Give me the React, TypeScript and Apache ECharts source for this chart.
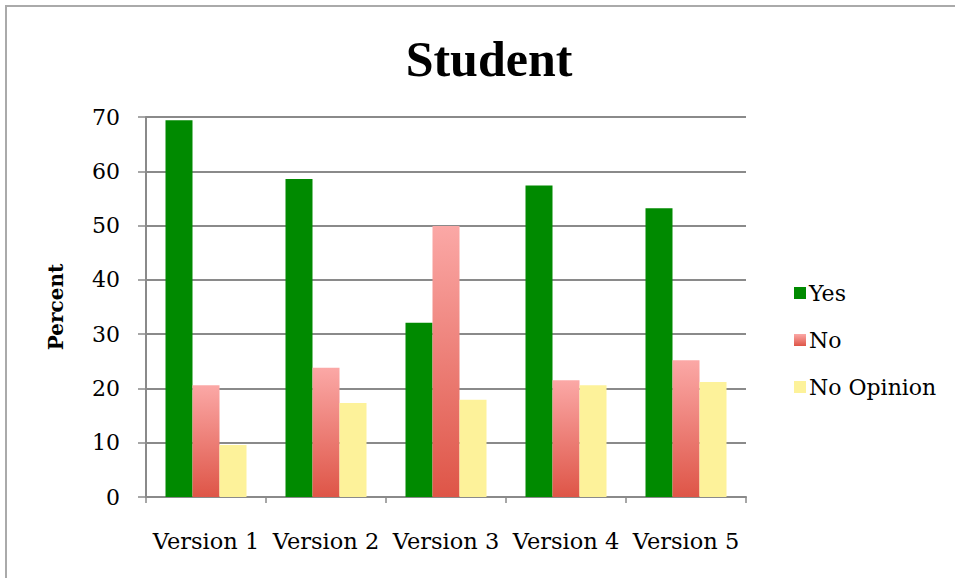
import React, { useEffect, useRef } from "react";
import * as echarts from "echarts";

const categories = ["Version 1", "Version 2", "Version 3", "Version 4", "Version 5"];
const yesValues = [69.4, 58.6, 32.1, 57.4, 53.2];
const noValues = [20.6, 23.8, 49.9, 21.5, 25.2];
const noOpinionValues = [9.6, 17.3, 17.9, 20.6, 21.2];
const seriesNames = ["Yes", "No", "No Opinion"];
const yTicks = { min: 0, max: 70, interval: 10 };

export default function App() {
  const ref = useRef<HTMLDivElement>(null);
  useEffect(() => {
    if (!ref.current) return;
    const chart = echarts.init(ref.current, undefined, { renderer: "svg" });
    const serif = "DejaVu Serif";
    const pink = new echarts.graphic.LinearGradient(0, 0, 0, 1, [
      { offset: 0, color: "#fba8a6" },
      { offset: 1, color: "#de5547" },
    ]);
    chart.setOption({
      animation: false,
      backgroundColor: "#ffffff",
      title: {
        text: "Student",
        left: 484,
        textAlign: "center",
        top: 29,
        textStyle: {
          fontFamily: "Liberation Serif",
          fontWeight: "bold",
          fontSize: 50,
          color: "#000",
        },
      },
      graphic: [
        {
          type: "rect",
          shape: { x: 6, y: 6, width: 970, height: 600 },
          style: { fill: "none", stroke: "#aaaaaa", lineWidth: 2 },
          silent: true,
        },
      ],
      legend: {
        orient: "vertical",
        left: 789,
        top: 277,
        itemWidth: 12,
        itemHeight: 12,
        itemGap: 25,
        icon: "rect",
        data: seriesNames,
        textStyle: { fontFamily: serif, fontSize: 22, color: "#000", padding: [0, 0, 0, -2] },
      },
      grid: { left: 146, right: 209, top: 117, bottom: 81 },
      xAxis: {
        type: "category",
        data: categories,
        boundaryGap: true,
        axisLine: { lineStyle: { color: "#8a8a8a", width: 2 } },
        axisTick: { show: true, length: 6, lineStyle: { color: "#8a8a8a", width: 1.5 } },
        axisLabel: {
          fontFamily: serif,
          fontSize: 22.5,
          color: "#000",
          margin: 32,
          interval: 0,
          hideOverlap: false,
        },
      },
      yAxis: {
        type: "value",
        min: yTicks.min,
        max: yTicks.max,
        interval: yTicks.interval,
        name: "Percent",
        nameLocation: "middle",
        nameRotate: 90,
        nameGap: 80,
        nameTextStyle: { fontFamily: serif, fontWeight: "bold", fontSize: 20, color: "#000" },
        axisLine: { show: true, lineStyle: { color: "#8a8a8a", width: 2 } },
        axisTick: { show: true, length: 8, lineStyle: { color: "#8a8a8a", width: 1.5 } },
        axisLabel: { fontFamily: serif, fontSize: 22, color: "#000", margin: 26 },
        splitLine: { lineStyle: { color: "#8a8a8a", width: 2 } },
      },
      series: [
        {
          name: seriesNames[0],
          type: "bar",
          data: yesValues,
          barWidth: 27,
          barGap: "0%",
          itemStyle: { color: "#008a00" },
        },
        {
          name: seriesNames[1],
          type: "bar",
          data: noValues,
          barWidth: 27,
          barGap: "0%",
          itemStyle: { color: pink },
        },
        {
          name: seriesNames[2],
          type: "bar",
          data: noOpinionValues,
          barWidth: 27,
          barGap: "0%",
          itemStyle: { color: "#fdf29a" },
        },
      ],
    });
    return () => chart.dispose();
  }, []);
  return (
    <div style={{ position: "absolute", left: 0, top: 0, width: 955, height: 578 }}>
      <div ref={ref} style={{ width: 955, height: 578 }} />
    </div>
  );
}
